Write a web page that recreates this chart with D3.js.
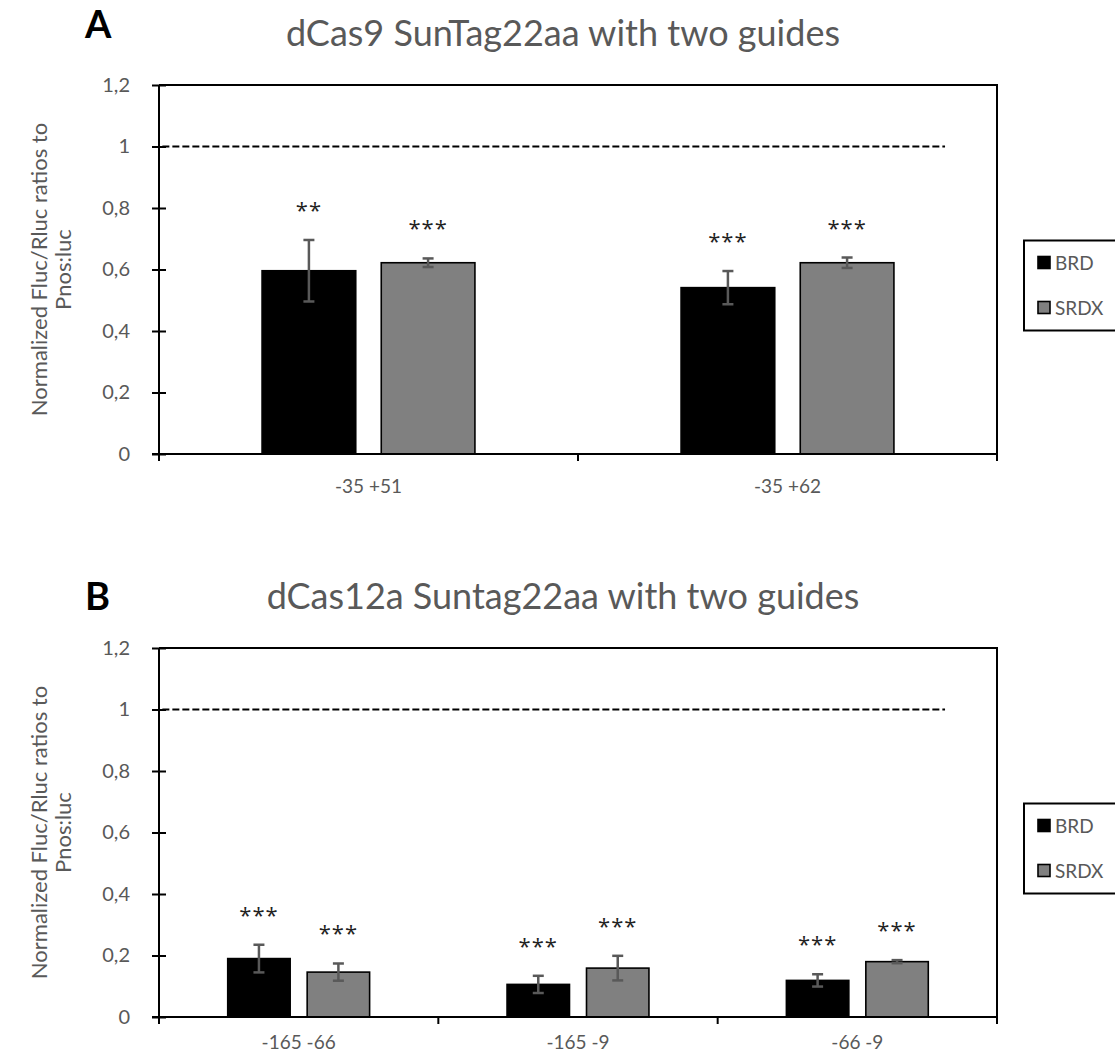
<!DOCTYPE html>
<html>
<head>
<meta charset="utf-8">
<script src="https://cdn.jsdelivr.net/npm/d3@7"></script>
<style>
  body { margin: 0; background: #fff; }
  svg { display: block; font-family: Lato, "Open Sans", sans-serif; }
  .tick text { fill: #595959; }
</style>
</head>
<body>
<div id="chart"></div>
<script>
// Two panels of grouped bars with error bars, Excel-like look

const series = ["BRD", "SRDX"];
const seriesFill = ["#000000", "#808080"];

const yTicks = [0, 0.2, 0.4, 0.6, 0.8, 1, 1.2];
const yTickLabels = ["0", "0,2", "0,4", "0,6", "0,8", "1", "1,2"];
const refValue = 1;

// panel A
const titleA = "dCas9 SunTag22aa with two guides";
const catsA = ["-35 +51", "-35 +62"];
const brdA = [0.596, 0.541];
const brdErrA = [0.100, 0.054];
const srdxA = [0.622, 0.622];
const srdxErrA = [0.014, 0.017];
const brdStarsA = ["**", "***"];
const srdxStarsA = ["***", "***"];

// panel B
const titleB = "dCas12a Suntag22aa with two guides";
const catsB = ["-165 -66", "-165 -9", "-66 -9"];
const brdB = [0.190, 0.106, 0.119];
const brdErrB = [0.045, 0.028, 0.020];
const srdxB = [0.146, 0.159, 0.180];
const srdxErrB = [0.028, 0.040, 0.005];
const brdStarsB = ["***", "***", "***"];
const srdxStarsB = ["***", "***", "***"];

const yTitle = ["Normalized Fluc/Rluc ratios to", "Pnos:luc"];

const W = 1115, H = 1058;
const svg = d3.select("#chart").append("svg")
  .attr("width", W).attr("height", H)
  .attr("viewBox", `0 0 ${W} ${H}`);

const fmtRows = (cats, b, be, s, se, bs, ss) => cats.map((c, i) => ({
  cat: c,
  values: [
    { key: series[0], v: b[i], e: be[i], star: bs[i] },
    { key: series[1], v: s[i], e: se[i], star: ss[i] }
  ]
}));

function drawPanel(opt) {
  const left = 159, right = 997;
  const top = opt.top, bottom = opt.top + 369;
  const g = svg.append("g");

  const x = d3.scaleBand().domain(opt.rows.map(d => d.cat)).range([left, right]);
  const y = d3.scaleLinear().domain([0, 1.2]).range([bottom, top]);
  const half = x.bandwidth() * 0.254;
  const xi = d3.scaleBand().domain(series).range([-half, half]).paddingInner(0.214);

  // letter + title
  g.append("text")
    .attr("x", 85).attr("y", top + opt.letterDy)
    .style("font-size", "38px").style("font-weight", "bold").attr("fill", "#000")
    .text(opt.letter);
  g.append("text")
    .attr("x", 563).attr("y", top - 39)
    .attr("text-anchor", "middle")
    .style("font-size", "36px").attr("fill", "#595959")
    .text(opt.title);

  // y axis title
  const yt = g.append("text")
    .attr("transform", `translate(0,${(top + bottom) / 2}) rotate(-90)`)
    .attr("text-anchor", "middle")
    .style("font-size", "22px").attr("fill", "#595959");
  yTitle.forEach((t, i) => yt.append("tspan").attr("x", 0).attr("y", 47 + i * 24).text(t));

  // reference dashed line
  const xr = d3.scaleLinear().domain([0, 1]).range([left, right]);
  g.append("line")
    .attr("x1", xr(0.004)).attr("x2", xr(0.938))
    .attr("y1", y(refValue)).attr("y2", y(refValue))
    .attr("stroke", "#000").attr("stroke-width", 2)
    .attr("stroke-dasharray", "7,3");

  // bars
  const grp = g.selectAll(".grp").data(opt.rows).join("g")
    .attr("transform", d => `translate(${x(d.cat) + x.bandwidth() / 2},0)`);

  grp.selectAll("rect").data(d => d.values).join("rect")
    .attr("x", d => xi(d.key))
    .attr("width", xi.bandwidth())
    .attr("y", d => y(d.v))
    .attr("height", d => y(0) - y(d.v))
    .attr("fill", (d, i) => seriesFill[i])
    .attr("stroke", "#000").attr("stroke-width", 1.6);

  // error bars
  const eb = grp.selectAll(".eb").data(d => d.values).join("g")
    .attr("transform", d => `translate(${xi(d.key) + xi.bandwidth() / 2},0)`)
    .attr("stroke", "#595959").attr("stroke-width", 2.5);
  eb.append("line").attr("y1", d => y(d.v + d.e)).attr("y2", d => y(d.v - d.e));
  eb.append("line").attr("x1", -5.5).attr("x2", 5.5).attr("y1", d => y(d.v + d.e)).attr("y2", d => y(d.v + d.e));
  eb.append("line").attr("x1", -5.5).attr("x2", 5.5).attr("y1", d => y(d.v - d.e)).attr("y2", d => y(d.v - d.e));

  // significance stars
  grp.selectAll(".star").data(d => d.values).join("text")
    .attr("x", d => xi(d.key) + xi.bandwidth() / 2)
    .attr("y", d => y(d.v + d.e) - 22)
    .attr("text-anchor", "middle")
    .style("font-family", "'Open Sans', sans-serif")
    .style("font-size", "22px").style("letter-spacing", "1px")
    .attr("fill", "#222")
    .text(d => d.star);

  // y axis with crossing ticks
  const ya = g.append("g").attr("transform", `translate(${left},0)`)
    .call(d3.axisLeft(y).tickValues(yTicks).tickSize(7).tickPadding(22)
      .tickFormat((d, i) => yTickLabels[i]));
  ya.select(".domain").remove();
  ya.selectAll(".tick line").attr("x1", 7).attr("stroke", "#000").attr("stroke-width", 2);
  ya.selectAll(".tick text").style("font-size", "20px").style("font-family", "Lato, sans-serif");
  g.append("line").attr("x1", left).attr("x2", left).attr("y1", top).attr("y2", bottom + 7)
    .attr("stroke", "#000").attr("stroke-width", 2);

  // x axis labels
  const xa = g.append("g").attr("transform", `translate(0,${bottom})`)
    .call(d3.axisBottom(x).tickSize(0).tickPadding(opt.labelPad));
  xa.select(".domain").remove();
  xa.selectAll(".tick text").style("font-size", "19px").style("font-family", "Lato, sans-serif");

  // category boundary ticks
  const bounds = d3.range(opt.rows.length + 1).map(i => left + i * x.step());
  g.selectAll(".bt").data(bounds).join("line")
    .attr("x1", d => d).attr("x2", d => d)
    .attr("y1", bottom).attr("y2", bottom + 7)
    .attr("stroke", "#000").attr("stroke-width", 2);

  // axis line + plot border
  g.append("line").attr("x1", left - 7).attr("x2", right).attr("y1", bottom).attr("y2", bottom)
    .attr("stroke", "#000").attr("stroke-width", 2);
  g.append("path")
    .attr("d", `M${left},${top}H${right}V${bottom}`)
    .attr("fill", "none").attr("stroke", "#000").attr("stroke-width", 2);

  // legend
  const ly = (top + bottom) / 2 + 16 - 45;
  const lg = g.append("g").attr("transform", `translate(${right + 27},${ly})`);
  lg.append("rect").attr("width", 120).attr("height", 90)
    .attr("fill", "#fff").attr("stroke", "#000").attr("stroke-width", 2);
  const li = lg.selectAll(".li").data(series).join("g")
    .attr("transform", (d, i) => `translate(14,${22 + i * 45})`);
  li.append("rect").attr("x", 0).attr("y", -6).attr("width", 12).attr("height", 12)
    .attr("fill", (d, i) => seriesFill[i]).attr("stroke", "#000").attr("stroke-width", 1.6);
  li.append("text").attr("x", 17).attr("y", 7)
    .style("font-size", "19px").attr("fill", "#595959")
    .text(d => d);
}

drawPanel({
  letter: "A", title: titleA, top: 85, letterDy: -47, labelPad: 26,
  rows: fmtRows(catsA, brdA, brdErrA, srdxA, srdxErrA, brdStarsA, srdxStarsA)
});
drawPanel({
  letter: "B", title: titleB, top: 648, letterDy: -38, labelPad: 19,
  rows: fmtRows(catsB, brdB, brdErrB, srdxB, srdxErrB, brdStarsB, srdxStarsB)
});
</script>
</body>
</html>
